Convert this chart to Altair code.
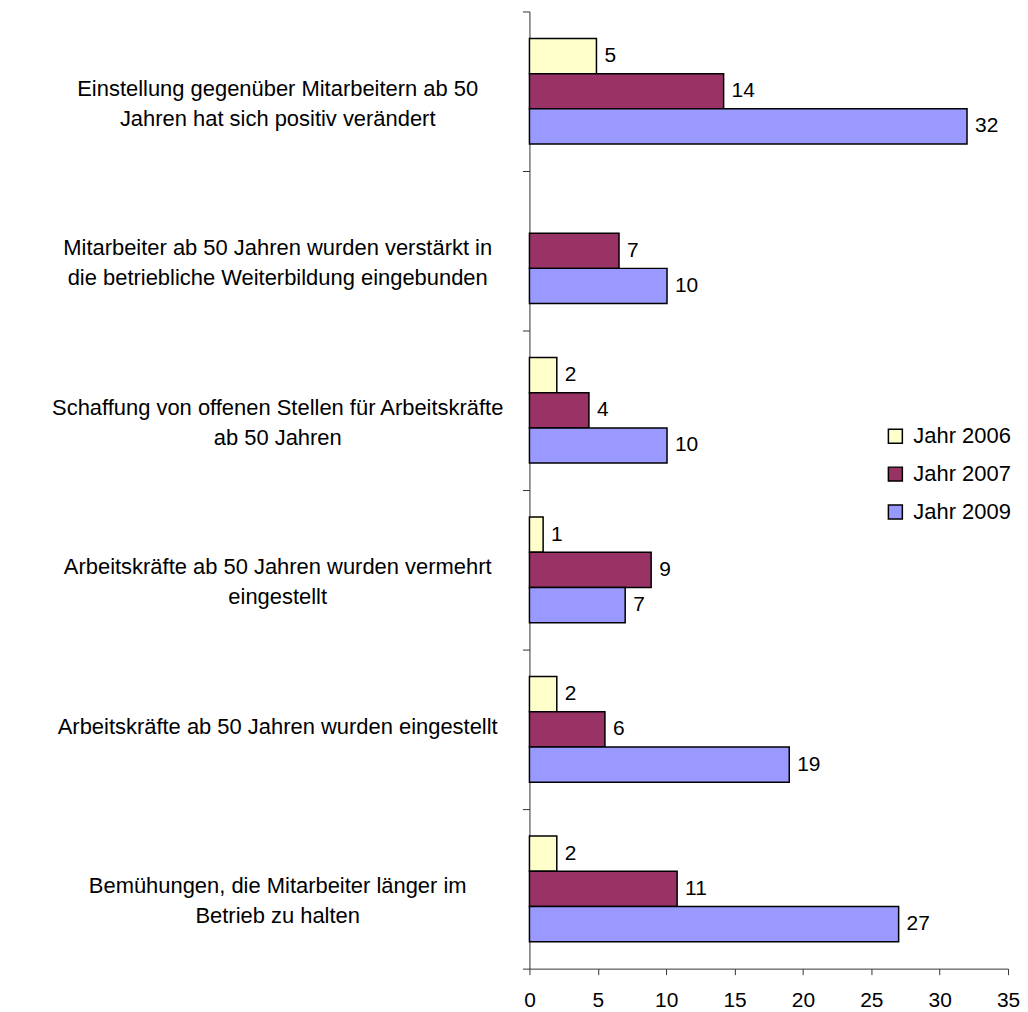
import altair as alt
import pandas as pd

categories = [
    "Einstellung gegenüber Mitarbeitern ab 50\nJahren hat sich positiv verändert",
    "Mitarbeiter ab 50 Jahren  wurden verstärkt in\ndie betriebliche Weiterbildung eingebunden",
    "Schaffung von offenen Stellen für Arbeitskräfte\nab 50 Jahren",
    "Arbeitskräfte ab 50 Jahren wurden vermehrt\neingestellt",
    "Arbeitskräfte ab 50 Jahren wurden eingestellt",
    "Bemühungen, die Mitarbeiter länger im\nBetrieb zu halten",
]
series = ["Jahr 2006", "Jahr 2007", "Jahr 2009"]
v2006 = [4.9, None, 2.0, 1.0, 2.0, 2.0]
v2007 = [14.2, 6.55, 4.35, 8.9, 5.52, 10.8]
v2009 = [32.0, 10.06, 10.06, 7.0, 19.0, 27.0]
colors = ["#FFFFCC", "#993366", "#9999FF"]
x_ticks = [0, 5, 10, 15, 20, 25, 30, 35]

rows = []
for i, c in enumerate(categories):
    for s, vals in zip(series, [v2006, v2007, v2009]):
        if vals[i] is not None:
            rows.append({"cat": c, "series": s, "value": vals[i]})
df = pd.DataFrame(rows)

FONT = "Liberation Sans"

y_enc = alt.Y(
    "cat:N",
    sort=categories,
    scale=alt.Scale(paddingInner=0, paddingOuter=0),
    axis=alt.Axis(
        title=None,
        labelExpr="split(datum.label, '\\n')",
        labelAlign="center",
        labelPadding=246,
        labelOffset=-3,
        labelFont=FONT,
        labelFontSize=22,
        labelLineHeight=30,
        labelColor="black",
        labelLimit=0,
        tickBand="extent",
        tickSize=7,
        tickColor="#333333",
        domainColor="#333333",
        tickWidth=1,
        domainWidth=1,
    ),
)
yoff_enc = alt.YOffset(
    "series:N", sort=series, scale=alt.Scale(paddingInner=0, paddingOuter=0.765)
)
x_enc = alt.X(
    "value:Q",
    scale=alt.Scale(domain=[0, 35], nice=False, zero=True),
    axis=alt.Axis(
        title=None,
        values=x_ticks,
        format="d",
        labelFont=FONT,
        labelFontSize=21,
        labelColor="black",
        labelPadding=15,
        tickSize=6,
        tickColor="#333333",
        domainColor="#333333",
        grid=False,
        labelFlush=False,
    ),
)

bars = alt.Chart(df).mark_bar(stroke="black", strokeWidth=1.5).encode(
    x=x_enc,
    y=y_enc,
    yOffset=yoff_enc,
    color=alt.Color(
        "series:N",
        scale=alt.Scale(domain=series, range=colors),
        legend=alt.Legend(
            title=None,
            orient="none",
            legendX=356,
            legendY=415,
            symbolType="square",
            symbolSize=196,
            symbolStrokeColor="black",
            symbolStrokeWidth=1.5,
            symbolOpacity=1,
            labelFont=FONT,
            labelFontSize=22,
            labelColor="black",
            labelOffset=7,
            rowPadding=16,
            padding=0,
        ),
    ),
)

labels = alt.Chart(df).mark_text(
    align="left", baseline="middle", dx=8, font=FONT, fontSize=21, color="black"
).encode(
    x=alt.X("value:Q"),
    y=alt.Y("cat:N", sort=categories),
    yOffset=alt.YOffset("series:N", sort=series),
    text=alt.Text("value:Q", format=".0f"),
)

chart = (
    alt.layer(bars, labels)
    .properties(
        width=480,
        height=960,
        autosize="none",
        padding={"left": 523, "top": 2, "right": 12, "bottom": 40},
        background="white",
    )
    .configure_view(stroke=None)
    .configure_axis(grid=False)
)

chart.save("out.html", embed_options={"renderer": "svg", "actions": False})
